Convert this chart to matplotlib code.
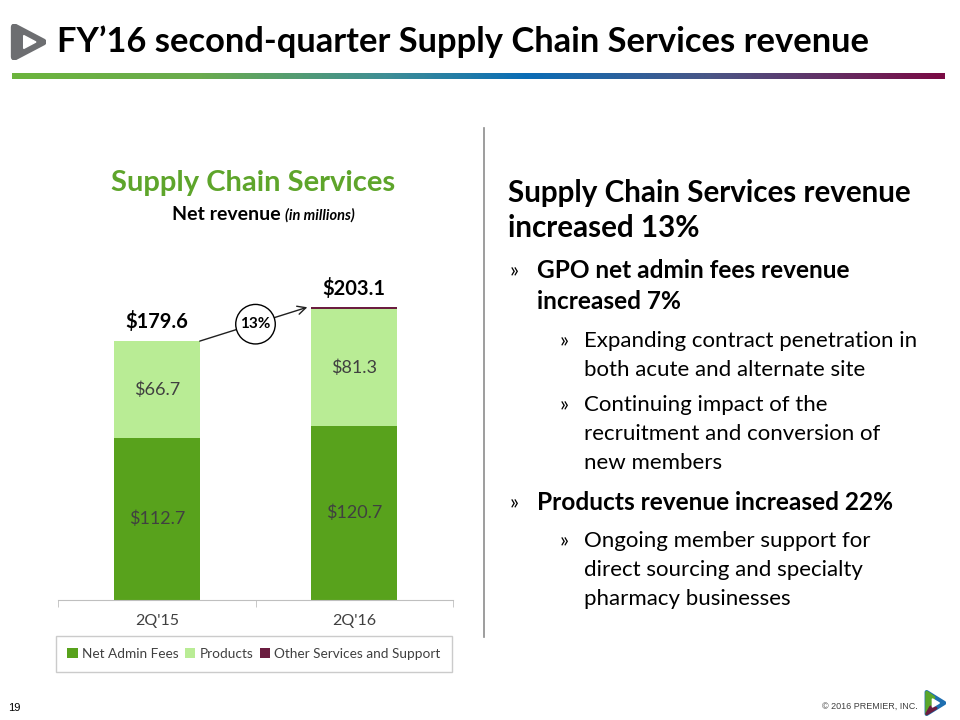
import matplotlib
matplotlib.use("Agg")
import matplotlib.pyplot as plt
import numpy as np
from matplotlib.colors import LinearSegmentedColormap
from matplotlib.patches import Polygon

plt.rcParams['font.family'] = ['Lato', 'DejaVu Sans']

# data
quarters = ["2Q'15", "2Q'16"]
net_admin = [112.7, 120.7]
products = [66.7, 81.3]
other = [0.2, 1.1]
totals = [179.6, 203.1]
growth = "13%"
series_names = ["Net Admin Fees", "Products", "Other Services and Support"]
colors = ["#58a21c", "#b9ec95", "#6b1d40"]

W, H = 960, 720
def fx(x):
    return x / W
def fy(y):
    return 1 - y / H

fig = plt.figure(figsize=(9.6, 7.2), dpi=100)

# header
fig.text(fx(57), fy(42), "FY\u201916 second-quarter Supply Chain Services revenue",
         fontsize=24.8, fontweight='bold', va='center', ha='left', color='black')

# logo top-left
lax = fig.add_axes([fx(10), fy(60), fx(36), 36 / H])
lax.set_xlim(0, 1); lax.set_ylim(0, 1); lax.axis('off')
lax.add_patch(Polygon([[0.12, 0.92], [0.92, 0.5], [0.12, 0.08]], closed=True,
                      fc='#6d6e71', ec='#6d6e71', lw=5, joinstyle='round'))
lax.add_patch(Polygon([[0.38, 0.68], [0.72, 0.5], [0.38, 0.32]], closed=True,
                      fc='white', ec='white', lw=1))

# gradient rule
gax = fig.add_axes([fx(12), fy(79), fx(933), 6 / H])
cmap = LinearSegmentedColormap.from_list('rule', [
    (0.0, '#6cb43d'), (0.2, '#6aab4e'), (0.4, '#3f8e95'), (0.55, '#0a6db6'),
    (0.75, '#4a5686'), (1.0, '#7a0a44')])
gax.imshow(np.linspace(0, 1, 400)[None, :], aspect='auto', cmap=cmap)
gax.axis('off')

# divider
fig.add_artist(plt.Line2D([fx(484), fx(484)], [fy(128), fy(637)], color='#8c8c8c', lw=1.2))

# chart titles
fig.text(fx(253), fy(183), "Supply Chain Services", fontsize=21, fontweight='bold',
         color='#5ea52b', ha='center', va='center')
fig.text(fx(172), fy(214), "Net revenue", fontsize=14, fontweight='bold', ha='left', va='center')
fig.text(fx(285), fy(215), "(in millions)", fontsize=10.5, fontweight='bold', style='italic',
         ha='left', va='center')

# bar chart
ax = fig.add_axes([fx(58), fy(600), fx(453 - 58), 320 / H])
x = np.arange(len(quarters))
bw = 0.435
b1 = np.array(net_admin)
b2 = b1 + np.array(products)
ax.bar(x, net_admin, bw, color=colors[0], label=series_names[0])
ax.bar(x, products, bw, bottom=b1, color=colors[1], label=series_names[1])
ax.bar(x, other, bw, bottom=b2, color=colors[2], label=series_names[2])
ax.set_xlim(-0.5, 1.5)
ax.set_ylim(0, 222)

for i in range(len(quarters)):
    ax.text(x[i], net_admin[i] / 2, "$%.1f" % net_admin[i], ha='center', va='center',
            fontsize=13, color='#404040')
    ax.text(x[i], b1[i] + products[i] / 2, "$%.1f" % products[i], ha='center', va='center',
            fontsize=13, color='#404040')
    ax.text(x[i], totals[i] + 6, "$%.1f" % totals[i], ha='center', va='bottom',
            fontsize=14.5, fontweight='bold', color='black')

# growth arrow
ax.annotate("", xy=(x[1] - bw / 2 - 0.02, totals[1]), xytext=(x[0] + bw / 2, totals[0]),
            arrowprops=dict(arrowstyle='->', color='#202020', lw=1, mutation_scale=15,
                            shrinkA=0, shrinkB=0))
ax.text(0.5, (totals[0] + totals[1]) / 2, growth, ha='center', va='center', fontsize=11,
        fontweight='bold', zorder=5,
        bbox=dict(boxstyle='circle,pad=0.3', fc='white', ec='black', lw=1))

for s in ['top', 'right', 'left']:
    ax.spines[s].set_visible(False)
ax.spines['bottom'].set_color('#bfbfbf')
ax.set_yticks([])
ax.set_xticks(x)
ax.set_xticklabels(quarters, fontsize=11.5, color='#404040')
ax.tick_params(axis='x', which='major', length=0, pad=10)
ax.set_xticks([-0.5, 0.5, 1.5], minor=True)
ax.tick_params(axis='x', which='minor', length=5, color='#bfbfbf')

leg = ax.legend(loc='center', bbox_to_anchor=(fx(254), fy(654)), bbox_transform=fig.transFigure,
                ncol=3, fontsize=9.8, frameon=True, fancybox=False, handlelength=0.75,
                handleheight=0.75, handletextpad=0.3, columnspacing=0.5, borderpad=0.85,
                borderaxespad=0)
leg.get_frame().set_edgecolor('#bfbfbf')
leg.get_frame().set_linewidth(1)
for t in leg.get_texts():
    t.set_color('#404040')

# right-hand text
head = 21.3
fig.text(fx(508), fy(193), "Supply Chain Services revenue", fontsize=head, fontweight='bold', va='center')
fig.text(fx(508), fy(228), "increased 13%", fontsize=head, fontweight='bold', va='center')

bullets = [
    (510, 537, [271, 301], ["GPO net admin fees revenue", "increased 7%"], 'bold', 17.6),
    (560, 584, [341, 370], ["Expanding contract penetration in", "both acute and alternate site"], 'normal', 16),
    (560, 584, [405, 434, 463], ["Continuing impact of the", "recruitment and conversion of", "new members"], 'normal', 16),
    (510, 537, [503], ["Products revenue increased 22%"], 'bold', 17.6),
    (560, 584, [541, 570, 599], ["Ongoing member support for", "direct sourcing and specialty", "pharmacy businesses"], 'normal', 16),
]
for bx, tx, ys, lines, wt, fs in bullets:
    fig.text(fx(bx), fy(ys[0]), "\u00bb", fontsize=15, va='center', ha='left')
    for yy, ln in zip(ys, lines):
        fig.text(fx(tx), fy(yy), ln, fontsize=fs, fontweight=wt, va='center', ha='left')

# footer
fig.text(fx(8), fy(708), "19", fontsize=8, family='Liberation Sans', va='center')
fig.text(fx(918), fy(706), "\u00a9 2016 PREMIER, INC.", fontsize=6.5, family='Liberation Sans',
         va='center', ha='right', color='#404040')
fax = fig.add_axes([fx(924), fy(716), fx(22), 26 / H])
fax.set_xlim(0, 1); fax.set_ylim(0, 1); fax.axis('off')
fax.add_patch(Polygon([[0.12, 0.92], [0.92, 0.5], [0.12, 0.08]], closed=True,
                      fc='#1f6fb0', ec='#1f6fb0', lw=3, joinstyle='round'))
fax.add_patch(Polygon([[0.12, 0.92], [0.45, 0.72], [0.3, 0.3], [0.12, 0.08]], closed=True,
                      fc='#5aa62a', ec='#5aa62a', lw=2, joinstyle='round'))
fax.add_patch(Polygon([[0.12, 0.08], [0.55, 0.3], [0.3, 0.35]], closed=True,
                      fc='#6b1d40', ec='#6b1d40', lw=2, joinstyle='round'))
fax.add_patch(Polygon([[0.38, 0.66], [0.7, 0.5], [0.38, 0.34]], closed=True,
                      fc='white', ec='white', lw=1))

fig.savefig("out.png", dpi=100)
